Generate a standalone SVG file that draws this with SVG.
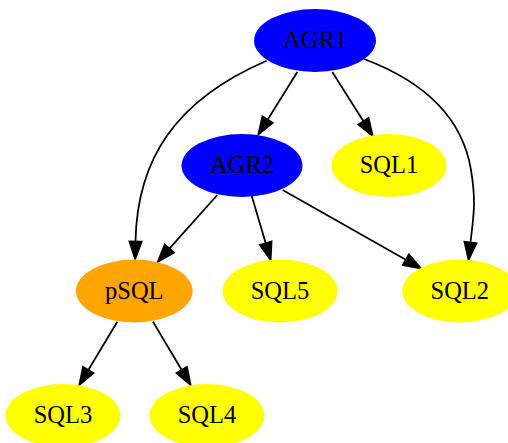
<svg xmlns="http://www.w3.org/2000/svg" width="508" height="443" viewBox="0 0 508 443">
  <style>
    .node text { font-family: "Liberation Serif", "Times New Roman", serif; font-size: 24.5px; text-anchor: middle; fill: #000; }
    .blue { fill: #0000ff; }
    .yellow { fill: #ffff00; }
    .orange { fill: #ffa500; }
    .edges path { fill: none; stroke: #000; stroke-width: 1.75; }
  </style>
  <defs>
    <marker id="arrow" markerUnits="userSpaceOnUse" markerWidth="22" markerHeight="16" refX="0" refY="0" viewBox="-1 -8 21 16" orient="auto" overflow="visible">
      <path d="M0,-6.1 L17.5,0 L0,6.1 Z" fill="#000" stroke="#000" stroke-width="1.75" stroke-linejoin="miter"/>
    </marker>
  </defs>
  <rect width="508" height="443" fill="#fff"/>

  <g class="edges">
    <!-- AGR1 -> AGR2 -->
    <path d="M297.3,72 L267.6,119.7" marker-end="url(#arrow)"/>
    <!-- AGR1 -> SQL1 -->
    <path d="M332.3,72 L363.4,121.2" marker-end="url(#arrow)"/>
    <!-- AGR1 -> pSQL -->
    <path d="M266.7,60.7 C175,100 137,160 135.5,241.5" marker-end="url(#arrow)"/>
    <!-- AGR1 -> SQL2 -->
    <path d="M364,59 C420,80 462,115 471,170 C476.4,203 473.5,215 470.5,242.5" marker-end="url(#arrow)"/>
    <!-- AGR2 -> pSQL -->
    <path d="M217.3,195 L169.4,248.6" marker-end="url(#arrow)"/>
    <!-- AGR2 -> SQL5 -->
    <path d="M251.7,195.7 L265.7,243.2" marker-end="url(#arrow)"/>
    <!-- AGR2 -> SQL2 -->
    <path d="M282.7,190 L405.8,259.7" marker-end="url(#arrow)"/>
    <!-- pSQL -> SQL3 -->
    <path d="M117.3,321.7 L88.3,370" marker-end="url(#arrow)"/>
    <!-- pSQL -> SQL4 -->
    <path d="M153,321.7 L181.7,370" marker-end="url(#arrow)"/>
  </g>

  <g id="AGR1" class="node">
    <ellipse class="blue" cx="315" cy="40.5" rx="61" ry="31.5"/>
    <text x="315" y="48">AGR1</text>
  </g>
  <g id="AGR2" class="node">
    <ellipse class="blue" cx="242" cy="165.5" rx="60.5" ry="31.5"/>
    <text x="242" y="173">AGR2</text>
  </g>
  <g id="SQL1" class="node">
    <ellipse class="yellow" cx="389" cy="165.5" rx="57.5" ry="31.5"/>
    <text x="389" y="173">SQL1</text>
  </g>
  <g id="pSQL" class="node">
    <ellipse class="orange" cx="134.3" cy="291" rx="58.3" ry="31.5"/>
    <text x="134.3" y="298.5">pSQL</text>
  </g>
  <g id="SQL5" class="node">
    <ellipse class="yellow" cx="280" cy="291" rx="57.5" ry="31.5"/>
    <text x="280" y="298.5">SQL5</text>
  </g>
  <g id="SQL2" class="node">
    <ellipse class="yellow" cx="459.8" cy="291" rx="57.5" ry="31.5"/>
    <text x="459.8" y="298.5">SQL2</text>
  </g>
  <g id="SQL3" class="node">
    <ellipse class="yellow" cx="63" cy="415.5" rx="57.5" ry="31.5"/>
    <text x="63" y="423">SQL3</text>
  </g>
  <g id="SQL4" class="node">
    <ellipse class="yellow" cx="207" cy="415.5" rx="57.5" ry="31.5"/>
    <text x="207" y="423">SQL4</text>
  </g>
</svg>
